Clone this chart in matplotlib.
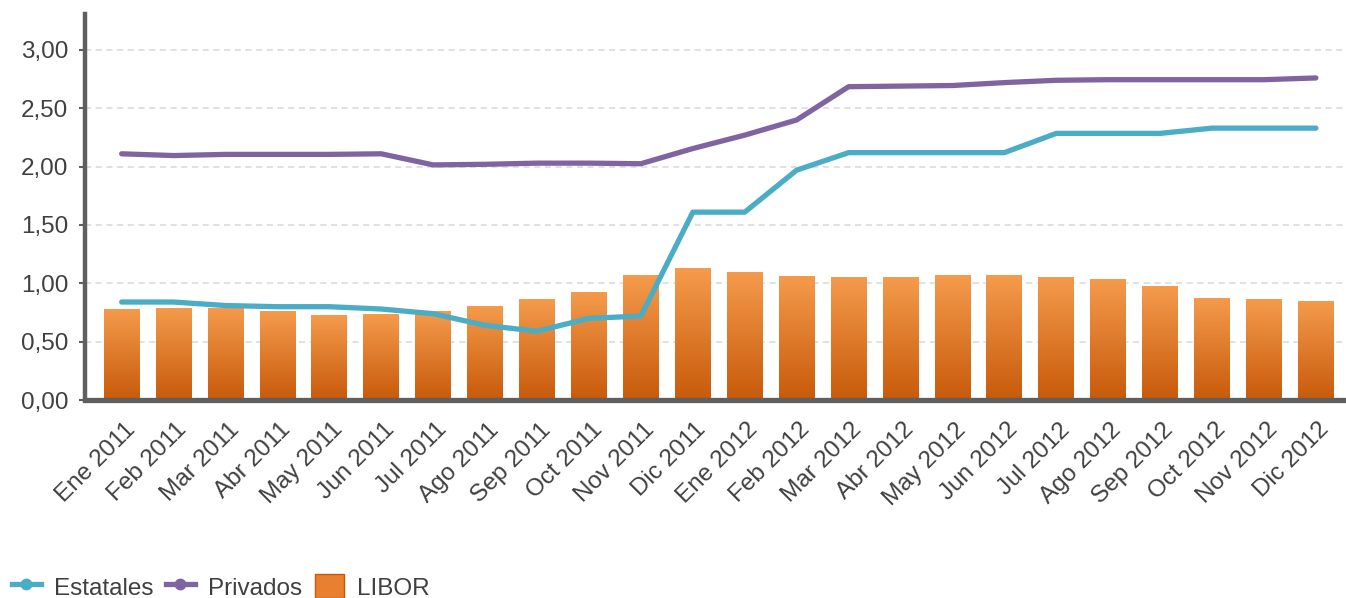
import numpy as np
import matplotlib.pyplot as plt
import matplotlib.transforms as mtransforms
from matplotlib.colors import LinearSegmentedColormap
from matplotlib.lines import Line2D
from matplotlib.patches import Patch

plt.rcParams['font.family'] = ['Liberation Sans', 'DejaVu Sans']

months = ['Ene 2011', 'Feb 2011', 'Mar 2011', 'Abr 2011', 'May 2011', 'Jun 2011',
          'Jul 2011', 'Ago 2011', 'Sep 2011', 'Oct 2011', 'Nov 2011', 'Dic 2011',
          'Ene 2012', 'Feb 2012', 'Mar 2012', 'Abr 2012', 'May 2012', 'Jun 2012',
          'Jul 2012', 'Ago 2012', 'Sep 2012', 'Oct 2012', 'Nov 2012', 'Dic 2012']

libor = [0.78, 0.79, 0.79, 0.76, 0.73, 0.74, 0.76, 0.81, 0.87, 0.93, 1.07, 1.13,
         1.10, 1.065, 1.055, 1.055, 1.07, 1.07, 1.055, 1.04, 0.98, 0.875, 0.865, 0.85]

estatales = [0.84, 0.84, 0.81, 0.80, 0.80, 0.78, 0.74, 0.64, 0.59, 0.70, 0.72, 1.61,
             1.61, 1.97, 2.12, 2.12, 2.12, 2.12, 2.285, 2.285, 2.285, 2.33, 2.33, 2.33]

privados = [2.11, 2.095, 2.105, 2.105, 2.105, 2.11, 2.015, 2.02, 2.03, 2.03, 2.025, 2.155,
            2.27, 2.40, 2.685, 2.69, 2.695, 2.72, 2.74, 2.745, 2.745, 2.745, 2.745, 2.76]

yticks = [0.0, 0.5, 1.0, 1.5, 2.0, 2.5, 3.0]

text_color = '#404040'
axis_color = '#5f5f5f'
fs = 17.5
bar_cmap = LinearSegmentedColormap.from_list('libor', ['#c85a0b', '#f59b4c'])

fig = plt.figure(figsize=(13.46, 5.98), dpi=100)
ax = fig.add_axes([0.063, 0.331, 0.937, 0.646])

x = np.arange(len(months))
width = 0.69

# bars: transparent rectangles used as clip paths for a vertical gradient
bars = ax.bar(x, libor, width=width, color='none', edgecolor='none', zorder=2)
grad = np.linspace(0, 1, 256).reshape(-1, 1)
for rect in bars:
    bx, bw, bh = rect.get_x(), rect.get_width(), rect.get_height()
    im = ax.imshow(grad, cmap=bar_cmap, origin='lower', aspect='auto',
                   extent=[bx, bx + bw, 0, bh], zorder=2)
    im.set_clip_path(rect)

ax.plot(x, estatales, color='#4bacc6', lw=3.8, solid_capstyle='round',
        solid_joinstyle='round', zorder=3)
ax.plot(x, privados, color='#8064a2', lw=3.8, solid_capstyle='round',
        solid_joinstyle='round', zorder=3)

ax.set_xlim(-0.71, 23.58)
ax.set_ylim(0, 3.31)

ax.set_yticks(yticks)
ax.set_yticklabels([f'{v:.2f}'.replace('.', ',') for v in yticks])
ax.yaxis.grid(True, color='#d9d9d9', linestyle=(0, (4, 3)), lw=1.1)
ax.set_axisbelow(True)

ax.tick_params(axis='y', length=4, width=1.5, color=axis_color, labelsize=fs,
               labelcolor=text_color, pad=8)
ax.tick_params(axis='x', length=0, labelsize=fs, labelcolor=text_color, pad=19)

ax.set_xticks(x)
ax.set_xticklabels(months, rotation=45, ha='right', va='center',
                   rotation_mode='anchor')
# nudge the rotated month labels so their ends sit just right of each bar
shift = mtransforms.ScaledTranslation(10 / 100, 0, fig.dpi_scale_trans)
for lbl in ax.get_xticklabels():
    lbl.set_transform(lbl.get_transform() + shift)

for side in ('top', 'right'):
    ax.spines[side].set_visible(False)
ax.spines['left'].set_color(axis_color)
ax.spines['left'].set_linewidth(3.2)
ax.spines['bottom'].set_color(axis_color)
ax.spines['bottom'].set_linewidth(3.8)
ax.spines['bottom'].set_zorder(4)

handles = [
    Line2D([], [], color='#4bacc6', lw=3.8, marker='o', markersize=7.5),
    Line2D([], [], color='#8064a2', lw=3.8, marker='o', markersize=7.5),
    Patch(facecolor='#e97f30', edgecolor='#c65a0f'),
]
fig.legend(handles, ['Estatales', 'Privados', 'LIBOR'], loc='lower left',
           bbox_to_anchor=(-0.004, -0.031), ncol=3, frameon=False, fontsize=fs,
           labelcolor=text_color, handlelength=1.2, handletextpad=0.55,
           columnspacing=0.5, handleheight=1.15, borderaxespad=0.3)

fig.savefig('out.png', dpi=100)
